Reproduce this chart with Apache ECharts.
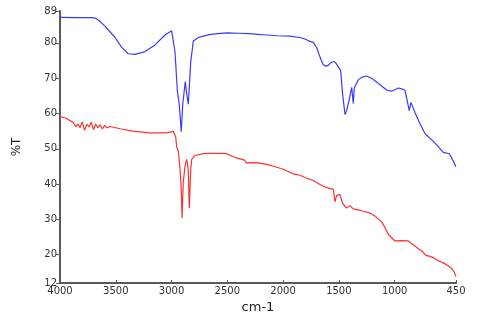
<!DOCTYPE html>
<html><head><meta charset="utf-8">
<script src="https://cdn.jsdelivr.net/npm/echarts@6/dist/echarts.min.js"></script>
<style>html,body{margin:0;padding:0;background:#fff}#c{width:480px;height:319px}</style>
</head><body><div id="c"></div>
<script>
const xTicks = [4000, 3500, 3000, 2500, 2000, 1500, 1000, 450];
const yTicks = [12, 20, 30, 40, 50, 60, 70, 80, 89];
const xTitle = 'cm-1';
const yTitle = '%T';

const blueWn = [4000,3850,3720,3686,3650,3597,3507,3447,3388,3328,3238,3148,3059,2999,2984,2969,2948,2931,2913,2900,2877,2864,2850,2828,2805,2760,2718,2650,2584,2500,2400,2300,2200,2144,2050,1938,1849,1800,1759,1729,1699,1684,1660,1640,1618,1595,1570,1550,1530,1514,1484,1466,1445,1430,1407,1385,1371,1362,1326,1290,1251,1200,1131,1066,1027,967,930,907,887,869,854,818,773,728,698,660,623,564,510,474,450];
const blueT  = [87.2,87.1,87.1,87.0,86.3,84.7,81.5,78.7,76.9,76.7,77.5,79.4,82.2,83.4,83.0,77.4,66.4,62.6,54.8,62.5,69.0,65.5,62.6,74.6,80.5,81.5,81.9,82.4,82.6,82.8,82.7,82.6,82.3,82.2,82.0,81.9,81.5,81.0,80.4,80.1,78.6,77.3,75.2,73.8,73.4,73.6,74.4,74.7,74.4,74.1,72.2,65.3,59.7,60.8,64.0,67.4,62.8,67.2,69.5,70.3,70.6,69.8,68.1,66.5,66.3,67.2,66.9,66.5,63.5,60.8,63.1,60.3,57.1,54.3,53.4,52.3,51.1,49.0,48.6,46.5,44.9];

const redWn = [4000,3950,3910,3880,3860,3840,3820,3800,3780,3760,3740,3720,3700,3680,3660,3640,3620,3600,3580,3552,3450,3350,3193,3050,2984,2963,2954,2939,2924,2913,2906,2895,2879,2864,2850,2841,2828,2819,2790,2715,2650,2566,2506,2420,2345,2330,2315,2240,2147,2070,1998,1900,1849,1800,1729,1680,1640,1580,1550,1535,1520,1505,1490,1466,1450,1430,1400,1385,1371,1326,1280,1221,1170,1116,1085,1057,997,940,878,833,788,760,719,690,653,610,564,520,489,465,450];
const redT  = [59.1,58.7,58.0,57.4,56.3,57.0,56.0,57.6,55.2,56.9,56.2,57.5,55.4,57.0,56.0,56.8,55.6,56.6,55.9,56.3,55.6,55.0,54.5,54.5,54.9,53.4,50.6,49.3,44.2,38.7,30.4,40.5,45.1,47.0,44.2,33.2,44.2,47.0,48.1,48.6,48.7,48.7,48.6,47.4,46.8,46.0,46.5,46.1,45.6,44.9,44.2,42.8,42.5,41.8,41.0,40.1,39.4,38.7,38.5,35.0,36.8,36.4,37.0,34.5,34.8,33.2,33.9,33.6,33.0,32.7,32.3,31.8,30.8,29.3,27.6,25.8,23.9,24.0,23.9,22.8,21.7,21.2,19.8,19.6,19.2,18.3,17.7,16.9,16.1,15.0,13.8];

const blueData = blueWn.map((w, i) => [w, blueT[i]]);
const redData = redWn.map((w, i) => [w, redT[i]]);

const chart = echarts.init(document.getElementById('c'), null, {renderer: 'canvas'});
const axisCol = '#5a5a5a';
const labelCol = '#333';
const fam = 'DejaVu Sans';
chart.setOption({
  animation: false,
  backgroundColor: '#fff',
  grid: {left: 60, right: 24, top: 11, bottom: 29, containLabel: false},
  xAxis: {
    type: 'value', inverse: true, min: 450, max: 4000,
    name: xTitle, nameLocation: 'middle', nameGap: 18,
    nameTextStyle: {color: '#222', fontSize: 13, fontFamily: fam},
    axisLine: {show: true, onZero: false, lineStyle: {color: axisCol, width: 2}},
    axisTick: {show: true, length: 3, inside: true, customValues: xTicks, lineStyle: {color: axisCol}},
    axisLabel: {customValues: xTicks, formatter: v => String(v), color: labelCol, fontSize: 10, margin: 3, fontFamily: fam},
    splitLine: {show: false}
  },
  yAxis: {
    type: 'value', min: 12, max: 89,
    name: yTitle, nameLocation: 'middle', nameGap: 37, nameRotate: 90,
    nameTextStyle: {color: '#222', fontSize: 12, fontFamily: fam},
    axisLine: {show: true, onZero: false, lineStyle: {color: axisCol, width: 2}},
    axisTick: {show: true, length: 4, customValues: yTicks, lineStyle: {color: axisCol}},
    axisLabel: {customValues: yTicks, formatter: v => String(v), color: labelCol, fontSize: 10, margin: 3, fontFamily: fam},
    splitLine: {show: false}
  },
  series: [
    {type: 'line', data: blueData, showSymbol: false, symbol: 'none', lineStyle: {color: '#3a3aff', width: 1.2}, z: 3},
    {type: 'line', data: redData, showSymbol: false, symbol: 'none', lineStyle: {color: '#ff3030', width: 1.2}, z: 2}
  ]
});
</script></body></html>
